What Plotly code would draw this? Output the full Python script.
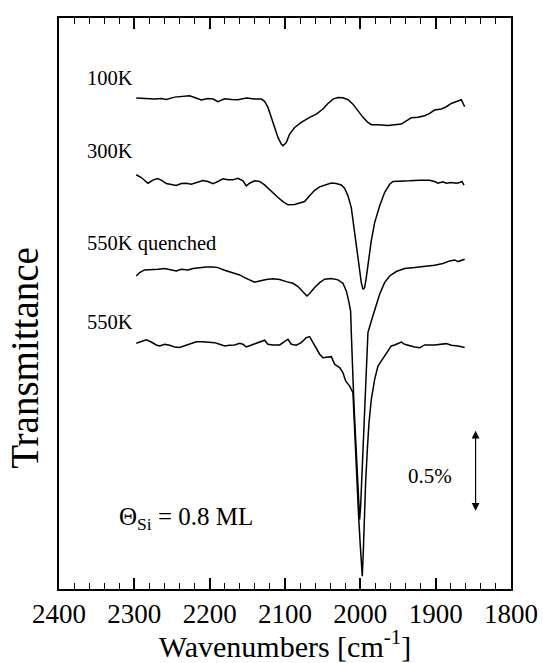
import plotly.graph_objects as go

# Wavenumbers (cm^-1) and transmittance (%, offset traces)
wn_100K = [2297.4, 2286.4, 2273.1, 2264.2, 2257.6, 2246.5, 2235.5, 2226.6, 2220.0, 2211.1,
           2202.3, 2195.6, 2189.0, 2180.2, 2171.3, 2162.5, 2151.4, 2140.3, 2131.5, 2127.1,
           2122.6, 2118.2, 2113.8, 2109.3, 2104.9, 2102.7, 2098.3, 2093.9, 2087.2, 2078.4,
           2067.3, 2058.5, 2049.6, 2043.0, 2036.3, 2029.7, 2023.1, 2016.4, 2009.8, 2003.2,
           1996.5, 1989.9, 1985.5, 1976.6, 1963.3, 1954.5, 1945.6, 1939.0, 1932.3, 1923.5,
           1914.6, 1908.0, 1901.4, 1892.5, 1885.9, 1879.3, 1872.6, 1866.0, 1861.5]
t_100K = [3.009, 3.005, 3.003, 3.007, 3.001, 3.015, 3.021, 3.023, 3.013, 2.997,
          3.007, 3.003, 2.987, 3.005, 3.001, 2.999, 3.009, 3.003, 3.003, 2.989,
          2.952, 2.891, 2.829, 2.768, 2.727, 2.717, 2.737, 2.788, 2.829, 2.860,
          2.891, 2.911, 2.942, 2.976, 3.003, 3.013, 3.011, 2.999, 2.972, 2.931,
          2.891, 2.860, 2.846, 2.846, 2.841, 2.846, 2.850, 2.870, 2.888, 2.891,
          2.901, 2.915, 2.936, 2.942, 2.956, 2.976, 2.989, 2.999, 2.956]

wn_300K = [2297.4, 2290.8, 2281.9, 2275.3, 2269.5, 2264.2, 2257.6, 2251.0, 2244.3, 2237.7,
           2231.0, 2224.4, 2217.8, 2208.9, 2202.3, 2195.6, 2189.0, 2182.4, 2175.7, 2169.1,
           2162.5, 2155.8, 2151.4, 2147.0, 2140.3, 2133.7, 2127.1, 2118.2, 2109.3, 2102.7,
           2096.1, 2087.2, 2074.0, 2067.3, 2060.7, 2054.1, 2045.2, 2038.6, 2031.9, 2025.3,
           2020.9, 2016.4, 2012.0, 2008.9, 2005.4, 2001.8, 1998.7, 1996.5, 1994.3, 1992.1,
           1989.0, 1985.5, 1981.0, 1974.4, 1967.8, 1961.1, 1956.7, 1947.9, 1934.6, 1921.3,
           1908.0, 1901.4, 1897.0, 1890.3, 1885.9, 1879.3, 1872.6, 1868.2, 1865.1, 1862.4]
t_300K = [2.539, 2.522, 2.487, 2.506, 2.516, 2.506, 2.485, 2.477, 2.473, 2.485,
          2.487, 2.481, 2.492, 2.504, 2.498, 2.485, 2.498, 2.514, 2.508, 2.508,
          2.518, 2.502, 2.471, 2.487, 2.502, 2.498, 2.477, 2.436, 2.400, 2.375,
          2.355, 2.357, 2.375, 2.410, 2.444, 2.465, 2.477, 2.489, 2.485, 2.477,
          2.457, 2.410, 2.338, 2.236, 2.093, 1.970, 1.878, 1.837, 1.847, 1.909,
          2.011, 2.134, 2.246, 2.348, 2.430, 2.481, 2.498, 2.498, 2.502, 2.506,
          2.506, 2.498, 2.487, 2.496, 2.487, 2.492, 2.487, 2.492, 2.498, 2.475]

wn_550Kq = [2297.4, 2293.0, 2286.4, 2277.5, 2268.7, 2259.8, 2251.0, 2244.3, 2237.7, 2228.8,
            2222.2, 2213.3, 2204.5, 2195.6, 2189.0, 2180.2, 2171.3, 2160.2, 2153.6, 2147.0,
            2140.3, 2133.7, 2124.8, 2116.0, 2107.1, 2098.3, 2089.4, 2082.8, 2076.2, 2070.9,
            2067.3, 2060.7, 2054.0, 2047.4, 2038.6, 2029.7, 2023.1, 2018.6, 2015.5, 2012.9,
            2012.0, 2010.7, 2008.4, 2006.2, 2004.0, 2002.3, 2000.9, 1999.6, 1997.8, 1996.1,
            1994.3, 1992.1, 1989.9, 1985.4, 1981.0, 1974.4, 1967.8, 1961.1, 1952.3, 1941.2,
            1927.9, 1914.6, 1901.4, 1890.3, 1881.5, 1874.8, 1870.4, 1861.5]
t_550Kq = [1.919, 1.940, 1.956, 1.956, 1.960, 1.964, 1.956, 1.950, 1.960, 1.956,
           1.964, 1.970, 1.974, 1.974, 1.970, 1.954, 1.940, 1.925, 1.909, 1.892,
           1.880, 1.888, 1.897, 1.901, 1.897, 1.884, 1.874, 1.854, 1.823, 1.796,
           1.811, 1.848, 1.878, 1.899, 1.903, 1.895, 1.874, 1.827, 1.766, 1.704,
           1.572, 1.367, 1.122, 0.917, 0.713, 0.549, 0.426, 0.508, 0.713, 0.917,
           1.122, 1.367, 1.572, 1.643, 1.704, 1.807, 1.878, 1.919, 1.946, 1.964,
           1.970, 1.976, 1.985, 1.995, 2.011, 2.017, 2.007, 2.021]

wn_550K = [2297.4, 2290.8, 2284.1, 2277.5, 2270.9, 2266.4, 2259.8, 2253.2, 2246.5, 2239.9,
           2233.3, 2224.4, 2217.8, 2208.9, 2200.1, 2193.4, 2186.8, 2180.2, 2173.5, 2166.9,
           2160.2, 2155.8, 2151.4, 2144.8, 2138.1, 2131.5, 2127.1, 2122.6, 2116.0, 2107.1,
           2100.5, 2096.1, 2091.6, 2085.0, 2078.4, 2071.7, 2067.3, 2060.7, 2054.0, 2049.6,
           2043.0, 2038.5, 2034.1, 2027.5, 2023.1, 2019.5, 2014.2, 2009.8, 2008.4, 2006.7,
           2004.5, 2002.3, 2000.0, 1997.4, 1996.1, 1994.7, 1993.0, 1990.7, 1988.5, 1985.4,
           1981.0, 1976.6, 1972.2, 1965.5, 1958.9, 1954.5, 1950.1, 1945.6, 1941.2, 1934.6,
           1927.9, 1921.3, 1914.6, 1901.4, 1885.9, 1879.3, 1870.4, 1861.5]
t_550K = [1.506, 1.516, 1.527, 1.514, 1.496, 1.490, 1.500, 1.494, 1.484, 1.480,
          1.490, 1.506, 1.516, 1.516, 1.514, 1.510, 1.500, 1.490, 1.494, 1.496,
          1.506, 1.500, 1.484, 1.496, 1.504, 1.516, 1.525, 1.500, 1.496, 1.496,
          1.516, 1.531, 1.500, 1.494, 1.510, 1.541, 1.547, 1.490, 1.439, 1.418,
          1.424, 1.424, 1.377, 1.357, 1.326, 1.275, 1.244, 1.203, 1.060, 0.856,
          0.651, 0.447, 0.263, 0.079, 0.222, 0.447, 0.651, 0.856, 1.019, 1.163,
          1.285, 1.367, 1.398, 1.449, 1.490, 1.496, 1.504, 1.514, 1.500, 1.490,
          1.484, 1.479, 1.496, 1.496, 1.504, 1.494, 1.490, 1.480]

series = [
    ("100K", wn_100K, t_100K, 2366, 3.13),
    ("300K", wn_300K, t_300K, 2366, 2.685),
    ("550K quenched", wn_550Kq, t_550Kq, 2366, 2.12),
    ("550K", wn_550K, t_550K, 2366, 1.635),
]

x_major_step = 100
x_minor_step = 20

serif = "Liberation Serif, Times New Roman, serif"

fig = go.Figure()
for name, x, y, lx, ly in series:
    fig.add_trace(go.Scatter(x=x, y=y, mode="lines", name=name,
                             line=dict(color="black", width=1.5), showlegend=False))

annotations = []
for name, x, y, lx, ly in series:
    annotations.append(dict(x=lx, y=ly, xref="x", yref="y", text=name, showarrow=False,
                            xanchor="left", yanchor="middle",
                            font=dict(family=serif, size=20.5, color="black")))

annotations.append(dict(x=2323, y=0.433, xref="x", yref="y",
                        text="Θ<sub>Si</sub> = 0.8 ML", showarrow=False,
                        xanchor="left", yanchor="middle",
                        font=dict(family=serif, size=25, color="black")))
annotations.append(dict(x=1907, y=0.69, xref="x", yref="y", text="0.5%", showarrow=False,
                        xanchor="center", yanchor="middle",
                        font=dict(family=serif, size=21, color="black")))
# y-axis title (placed lower than centre, as in the original)
annotations.append(dict(x=-0.075, y=0.405, xref="paper", yref="paper", text="Transmittance",
                        textangle=-90, showarrow=False, xanchor="center", yanchor="middle",
                        font=dict(family=serif, size=39, color="black")))
# 0.5% scale bar
annotations.append(dict(x=1847, y=0.97, ax=1847, ay=0.47, xref="x", yref="y",
                        axref="x", ayref="y", text="", showarrow=True,
                        arrowhead=2, arrowside="end+start", arrowsize=1.3,
                        arrowwidth=1.2, arrowcolor="black", standoff=0, startstandoff=0))

fig.update_layout(
    width=543, height=663,
    margin=dict(l=59, r=32, t=18, b=74, autoexpand=False),
    paper_bgcolor="white", plot_bgcolor="white",
    annotations=annotations,
    xaxis=dict(range=[2400, 1800], tickmode="linear", tick0=1800, dtick=x_major_step,
               ticks="inside", ticklen=11, tickwidth=1.5, tickcolor="black",
               minor=dict(tickmode="linear", tick0=1800, dtick=x_minor_step,
                          ticks="inside", ticklen=6, tickwidth=1.3, tickcolor="black"),
               showline=True, linecolor="black", linewidth=1.5, mirror="allticks",
               showgrid=False, zeroline=False, automargin=False,
               tickfont=dict(family=serif, size=27, color="black"),
               title=dict(text="Wavenumbers [cm<sup>-1</sup>]",
                          font=dict(family=serif, size=30, color="black"), standoff=4)),
    yaxis=dict(range=[0, 3.5], showticklabels=False, ticks="",
               showline=True, linecolor="black", linewidth=1.5, mirror=True,
               showgrid=False, zeroline=False, automargin=False),
)

fig.write_html("out.html")
